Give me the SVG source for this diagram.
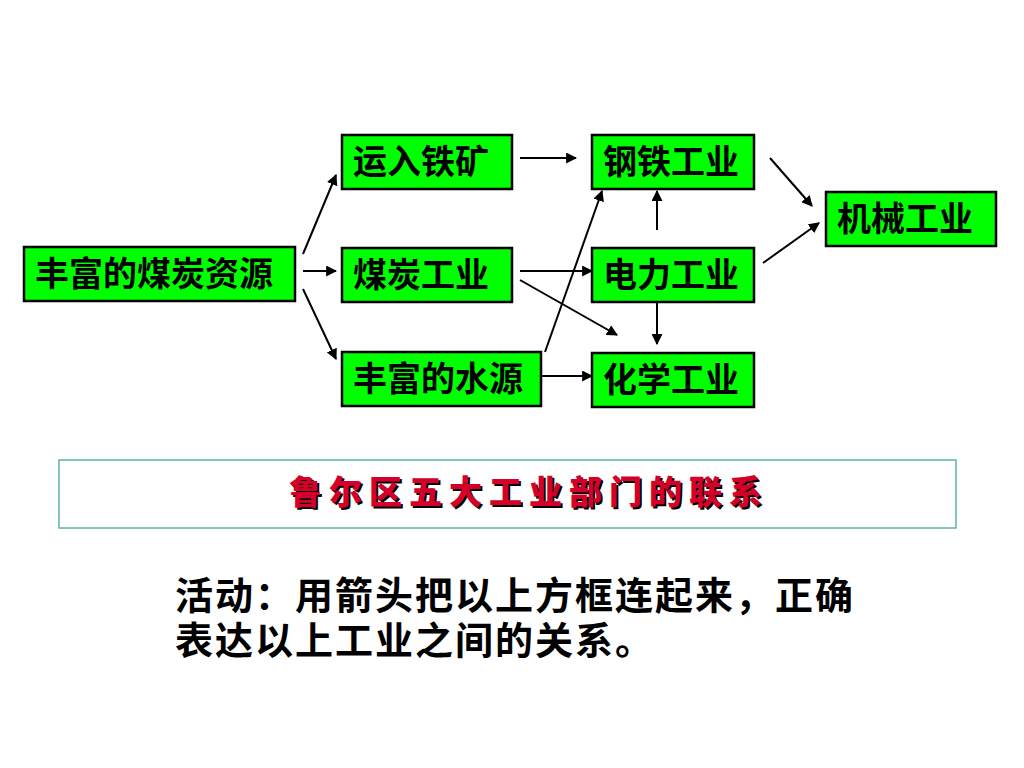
<svg xmlns="http://www.w3.org/2000/svg" width="1024" height="768" viewBox="0 0 1024 768">
<defs>
<style>
.box{fill:#00ff00;stroke:#000;stroke-width:2.5}
.lbl{font-family:"Noto Sans CJK SC","Liberation Sans",sans-serif;font-weight:bold;font-size:34px;fill:#000}
.cn{stroke:#000;stroke-width:2;fill:none;marker-end:url(#ah)}
.title{font-family:"Noto Sans CJK SC",sans-serif;font-weight:900;font-size:33px;letter-spacing:7px}
.body{font-family:"Noto Sans CJK SC","Liberation Sans",sans-serif;font-weight:bold;font-size:38px;letter-spacing:2px;fill:#000}
</style>
<marker id="ah" viewBox="0 0 10 10" refX="9" refY="5" markerWidth="5.5" markerHeight="5.5" orient="auto" markerUnits="strokeWidth">
<path d="M0,0 L10,5 L0,10 z" fill="#000"/>
</marker>
</defs>
<rect width="1024" height="768" fill="#fff"/>
<g id="n-coal-res"><rect class="box" x="24" y="247" width="271" height="54"/><text class="lbl" x="35" y="286">丰富的煤炭资源</text></g>
<g id="n-iron-ore"><rect class="box" x="342" y="135" width="170" height="54"/><text class="lbl" x="353" y="174">运入铁矿</text></g>
<g id="n-coal-ind"><rect class="box" x="342" y="248" width="170" height="54"/><text class="lbl" x="353" y="287">煤炭工业</text></g>
<g id="n-water"><rect class="box" x="342" y="352" width="199" height="54"/><text class="lbl" x="353" y="391">丰富的水源</text></g>
<g id="n-steel"><rect class="box" x="592" y="135" width="162" height="54"/><text class="lbl" x="603" y="174">钢铁工业</text></g>
<g id="n-power"><rect class="box" x="592" y="248" width="162" height="54"/><text class="lbl" x="603" y="287">电力工业</text></g>
<g id="n-chem"><rect class="box" x="592" y="353" width="162" height="54"/><text class="lbl" x="603" y="392">化学工业</text></g>
<g id="n-mach"><rect class="box" x="826" y="192" width="170" height="54"/><text class="lbl" x="837" y="231">机械工业</text></g>
<g id="connectors">
<line class="cn" x1="303" y1="254" x2="336" y2="175"/>
<line class="cn" x1="303" y1="271" x2="336" y2="271"/>
<line class="cn" x1="303" y1="289" x2="336" y2="359"/>
<line class="cn" x1="520" y1="158" x2="576" y2="158"/>
<line class="cn" x1="520" y1="271" x2="592" y2="271"/>
<line class="cn" x1="520" y1="280" x2="617" y2="335"/>
<line class="cn" x1="545" y1="352" x2="602" y2="191"/>
<line class="cn" x1="541" y1="376" x2="592" y2="376"/>
<line class="cn" x1="657" y1="230" x2="657" y2="191"/>
<line class="cn" x1="657" y1="303" x2="657" y2="344"/>
<line class="cn" x1="770" y1="158" x2="812" y2="206"/>
<line class="cn" x1="763" y1="263" x2="819" y2="223"/>
</g>
<g id="title">
<rect x="59" y="460" width="897" height="68" fill="#fff" stroke="#5fb3a8" stroke-width="1.5"/>
<text class="title" x="291" y="506" fill="#000">鲁尔区五大工业部门的联系</text>
<text class="title" x="289" y="504" fill="#d4002a">鲁尔区五大工业部门的联系</text>
</g>
<g id="activity">
<text class="body"><tspan x="175" y="609">活动：用箭头把以上方框连起来，正确</tspan><tspan x="175" y="654">表达以上工业之间的关系。</tspan></text>
</g>
</svg>
